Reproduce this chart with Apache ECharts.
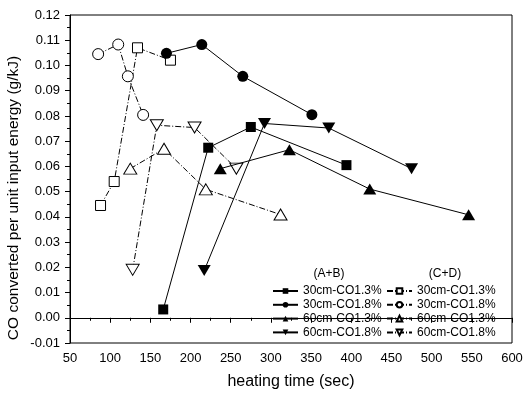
<!DOCTYPE html>
<html><head><meta charset="utf-8">
<script src="https://cdn.jsdelivr.net/npm/echarts@6/dist/echarts.min.js"></script>
<style>html,body{margin:0;padding:0;background:#fff}#c{width:526px;height:397px}</style>
</head><body><div id="c"></div>
<script>
// Data (heating time sec, CO g/kJ)
const ab_30cm_13 = [[166,0.0033],[222,0.0674],[275,0.0756],[394,0.0605]];
const ab_30cm_18 = [[170,0.1048],[214,0.1083],[265,0.0957],[351,0.0805]];
const ab_60cm_13 = [[237,0.0591],[323,0.0666],[423,0.0510],[546,0.0408]];
const ab_60cm_18 = [[217,0.0187],[292,0.0770],[372,0.0752],[475,0.0591]];
const cd_30cm_13 = [[88,0.0445],[105,0.0540],[134,0.1070],[175,0.1021]];
const cd_30cm_18 = [[85,0.1045],[110,0.1083],[122,0.0957],[141,0.0804]];
const cd_60cm_13 = [[125,0.0591],[167,0.0670],[219,0.0509],[312,0.0409]];
const cd_60cm_18 = [[128,0.0190],[158,0.0763],[205,0.0754],[257,0.0591]];
const seriesNames = ['30cm-CO1.3%','30cm-CO1.8%','60cm-CO1.3%','60cm-CO1.8%'];
const groupLabels = ['(A+B)','(C+D)'];
const xLabel = 'heating time (sec)';
const yLabel = 'CO converted per unit input energy (g/kJ)';

const downTri = 'path://M0,0 L10,0 L5,8.66 Z';
const upTri = 'path://M5,0 L10,8.66 L0,8.66 Z';
const font = 'Arial, "Liberation Sans", sans-serif';

function mk(name, data, symbol, size, filled, dashed){
  return {
    type:'line', name:name, data:data, symbol:symbol, symbolSize:size,
    lineStyle:{color:'#000', width:1, type: dashed ? [6,2,1,2] : 'solid'},
    itemStyle:{color: filled ? '#000' : '#fff', borderColor:'#000', borderWidth: filled?0:1, opacity:1},
    emphasis:{disabled:true}, animation:false, z: filled?3:2
  };
}
const series = [
  mk(seriesNames[0]+' AB', ab_30cm_13, 'rect', 10, true, false),
  mk(seriesNames[1]+' AB', ab_30cm_18, 'circle', 11, true, false),
  mk(seriesNames[2]+' AB', ab_60cm_13, upTri, [13,11], true, false),
  mk(seriesNames[3]+' AB', ab_60cm_18, downTri, [13,11], true, false),
  mk(seriesNames[0]+' CD', cd_30cm_13, 'rect', 10, false, true),
  mk(seriesNames[1]+' CD', cd_30cm_18, 'circle', 11, false, true),
  mk(seriesNames[2]+' CD', cd_60cm_13, upTri, [13,11], false, true),
  mk(seriesNames[3]+' CD', cd_60cm_18, downTri, [13,11], false, true)
];
const fmt = n => n.replace(/ (AB|CD)$/,'');
const legendBase = {orient:'vertical', top:285, padding:0,
  itemWidth:25, itemHeight:7, itemGap:1.8, formatter:fmt, selectedMode:false,
  textStyle:{fontSize:12, color:'#000', fontFamily:font}};
const chart = echarts.init(document.getElementById('c'), null, {renderer:'canvas'});
chart.setOption({
  animation:false,
  backgroundColor:'#fff',
  textStyle:{fontFamily:font},
  grid:{left:70, right:14, top:15, bottom:54, show:true, borderColor:'#000', borderWidth:1},
  xAxis:{type:'value', min:50, max:600, interval:50,
    name:xLabel, nameLocation:'middle', nameGap:31,
    nameTextStyle:{fontSize:16, color:'#000', fontFamily:font},
    axisLine:{show:true, lineStyle:{color:'#000', width:1}},
    axisTick:{show:true, inside:false, length:5, lineStyle:{color:'#000'}},
    minorTick:{show:true, splitNumber:2, length:3, lineStyle:{color:'#000'}},
    axisLabel:{color:'#000', fontSize:13, margin:9, fontFamily:font},
    splitLine:{show:false}},
  yAxis:{type:'value', min:-0.01, max:0.12, interval:0.01,
    axisLine:{show:true, lineStyle:{color:'#000', width:1}},
    axisTick:{show:true, inside:false, length:5, lineStyle:{color:'#000'}},
    minorTick:{show:true, splitNumber:2, length:3, lineStyle:{color:'#000'}},
    axisLabel:{color:'#000', fontSize:13, margin:10, fontFamily:font, formatter:v=>v.toFixed(2)},
    splitLine:{show:false}},
  legend:[
    Object.assign({}, legendBase, {data:series.slice(0,4).map(s=>s.name), left:272}),
    Object.assign({}, legendBase, {data:series.slice(4).map(s=>s.name), left:386})
  ],
  graphic:[
    {type:'text', x:14, y:198, rotation:Math.PI/2,
     style:{text:yLabel, fill:'#000', font:'15.5px '+font, align:'center', verticalAlign:'middle'}},
    {type:'text', x:329, y:274,
     style:{text:groupLabels[0], fill:'#000', font:'12px '+font, align:'center', verticalAlign:'middle'}},
    {type:'text', x:445, y:274,
     style:{text:groupLabels[1], fill:'#000', font:'12px '+font, align:'center', verticalAlign:'middle'}}
  ],
  series:series
});
</script></body></html>
